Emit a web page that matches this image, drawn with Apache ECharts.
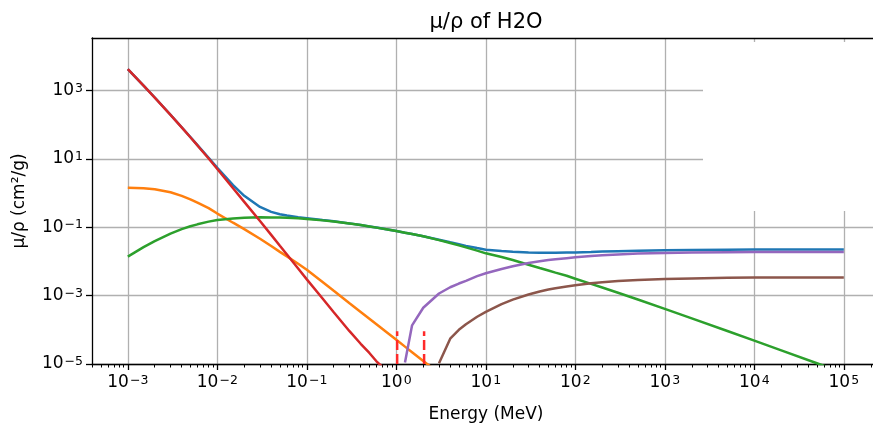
<!DOCTYPE html>
<html><head><meta charset="utf-8">
<script src="https://cdn.jsdelivr.net/npm/echarts@6/dist/echarts.min.js"></script>
<style>html,body{margin:0;padding:0;background:#fff}#c{width:873px;height:428px}</style>
</head><body><div id="c"></div>
<script>
// Photon energies (MeV)
const energy = [0.001,0.0015,0.002,0.003,0.004,0.005,0.006,0.008,0.01,0.015,0.02,0.03,0.04,0.05,0.06,0.08,0.1,0.15,0.2,0.3,0.4,0.5,0.6,0.8,1,1.25,1.5,2,3,4,5,6,8,10,15,20,30,40,50,60,80,100,150,200,300,500,1000,2000,5000,10000,20000,50000,100000];
// mass attenuation coefficients (cm^2/g)
const total = [4201,1375,617,193,83.5,43.2,25.1,10.7,5.41,1.69,0.826,0.391,0.280,0.239,0.218,0.196,0.183,0.161,0.148,0.129,0.1154,0.1052,0.0972,0.0856,0.0771,0.0690,0.0632,0.0545,0.0430,0.0361,0.0317,0.0284,0.0245,0.0220,0.0200,0.0190,0.0181,0.0178,0.0178,0.0178,0.0181,0.0182,0.0188,0.0193,0.0199,0.0205,0.0212,0.0216,0.0219,0.0221,0.0222,0.0222,0.0222];
const coherent = [1.42,1.38,1.28,1.05,0.82,0.65,0.52,0.36,0.25,0.135,0.088,0.046,0.028,0.019,0.014,0.0085,0.0057,0.0025,0.00138,0.0006,0.000333,0.000211,0.000145,0.0000804,0.0000509,0.0000322,0.0000222,0.0000123,0.0000054,null,null,null,null,null,null,null,null,null,null,null,null,null,null,null,null,null,null,null,null,null,null,null,null];
const incoherent = [0.0138,0.026,0.039,0.065,0.088,0.106,0.121,0.145,0.163,0.180,0.188,0.194,0.193,0.191,0.188,0.181,0.174,0.158,0.146,0.128,0.115,0.105,0.097,0.0855,0.077,0.069,0.063,0.054,0.0418,0.0343,0.0293,0.0256,0.0206,0.0172,0.0134,0.0110,0.0080,0.0064,0.0054,0.0047,0.0038,0.0031,0.0022,0.00172,0.00121,0.00077,0.00041,0.000215,0.000092,0.000048,0.000025,0.0000105,0.0000054];
const photoelectric = [4200,1374,616,192,82.6,42.4,24.5,10.2,5.0,1.37,0.55,0.151,0.0594,0.0287,0.0159,0.0062,0.00298,0.00082,0.000327,0.000091,0.000039,0.000021,0.000012,0.0000059,0.0000035,null,null,null,null,null,null,null,null,null,null,null,null,null,null,null,null,null,null,null,null,null,null,null,null,null,null,null,null];
const pairNuclear = [null,null,null,null,null,null,null,null,null,null,null,null,null,null,null,null,null,null,null,null,null,null,null,null,null,0.000011,0.000135,0.00044,0.00115,0.00175,0.00225,0.0027,0.0037,0.0045,0.0060,0.0072,0.0090,0.0101,0.0109,0.0115,0.0124,0.0131,0.0143,0.0151,0.0160,0.0169,0.0177,0.0182,0.0185,0.0187,0.0188,0.0188,0.0188];
const pairElectron = [null,null,null,null,null,null,null,null,null,null,null,null,null,null,null,null,null,null,null,null,null,null,null,null,null,null,null,null,0.0000105,0.000055,0.0001,0.000145,0.00024,0.000335,0.00056,0.00076,0.00108,0.00132,0.0015,0.00164,0.00185,0.0020,0.00228,0.00246,0.00266,0.00287,0.00305,0.00318,0.0033,0.00335,0.00338,0.0034,0.0034];
// pair-production thresholds (MeV) and top of their marker lines
const thresholds = [1.022, 2.044];
const thresholdTop = 0.00009;
// axis ranges and ticks (decade exponents)
const xRange = [-3.4, 5.326];
const yRange = [-5, 4.53];
const xMajor = [-3,-2,-1,0,1,2,3,4,5];
const yMajor = [-5,-3,-1,1,3];

const L = Math.log10;
function pts(vals){ const out=[]; energy.forEach((e,i)=>{ if(vals[i]!=null) out.push([L(e), L(vals[i])]); }); return out; }
function pow10(n){ const k = Math.round(n); return '{b|10}{s|' + String(k).replace('-', '\u2212') + '}'; }
const minorX = [];
for (let n=-4;n<=5;n++) for (let k=2;k<=9;k++){ const v=L(k)+n; if (v>xRange[0] && v<xRange[1]) minorX.push(v); }

const FONT = 'DejaVu Sans';
const RICH = {b:{fontFamily:FONT, fontSize:17, color:'#000'}, s:{fontFamily:FONT, fontSize:12.5, color:'#000', verticalAlign:'top', padding:[0,0,0,1]}};
const lineSeries = (name, vals, color) => ({
  name, type:'line', data: pts(vals), showSymbol:false, symbol:'none', clip:true,
  lineStyle:{width:2.5, color}, itemStyle:{color}, animation:false
});
const series = [
  lineSeries('Total', total, '#1f77b4'),
  lineSeries('Coherent', coherent, '#ff7f0e'),
  lineSeries('Incoherent', incoherent, '#2ca02c'),
  lineSeries('Photoelectric', photoelectric, '#d62728'),
  lineSeries('Pair (nuclear)', pairNuclear, '#9467bd'),
  lineSeries('Pair (electron)', pairElectron, '#8c564b')
];
thresholds.forEach(t => series.push({
  type:'line', data:[[L(t), yRange[0]],[L(t), L(thresholdTop)]], showSymbol:false, symbol:'none',
  lineStyle:{width:2.5, color:'#ff2a2a', type:[10,4]}, animation:false, clip:true
}));

const AXLINE = {show:true, onZero:false, lineStyle:{color:'#000', width:1.3}};
const chart = echarts.init(document.getElementById('c'));
chart.setOption({
  animation:false,
  backgroundColor:'#fff',
  title:{text:'\u03BC/\u03C1 of H2O', left:481, top:7, textAlign:'center',
    textStyle:{fontFamily:FONT, fontSize:21, fontWeight:'normal', color:'#000'}},
  grid:{left:92, top:38, right:0, bottom:60, show:false},
  xAxis:[{
    type:'value', min:xRange[0], max:xRange[1], position:'bottom',
    axisLine:AXLINE,
    axisTick:{customValues:xMajor, length:6, lineStyle:{color:'#000', width:1.3}},
    axisLabel:{customValues:xMajor, formatter:v=>pow10(v), rich:RICH, margin:10},
    splitLine:{show:true, lineStyle:{color:'#b0b0b0', width:1.3}},
    name:'Energy (MeV)', nameLocation:'middle', nameGap:42,
    nameTextStyle:{fontFamily:FONT, fontSize:17, color:'#000', padding:[0,0,0,7]}
  },{
    type:'value', min:xRange[0], max:xRange[1], position:'bottom',
    axisLine:{show:false, onZero:false}, axisLabel:{show:false}, splitLine:{show:false},
    axisTick:{customValues:minorX, length:3.5, lineStyle:{color:'#000', width:1}}
  },{
    type:'value', min:xRange[0], max:xRange[1], position:'top',
    axisLine:AXLINE, axisLabel:{show:false}, splitLine:{show:false}, axisTick:{show:false}
  }],
  yAxis:{
    type:'value', min:yRange[0], max:yRange[1], position:'left',
    axisLine:AXLINE,
    axisTick:{customValues:yMajor, length:6, lineStyle:{color:'#000', width:1.3}},
    axisLabel:{customValues:yMajor, formatter:v=>pow10(v), rich:RICH, margin:9},
    splitLine:{show:true, lineStyle:{color:'#b0b0b0', width:1.3}},
    name:'\u03BC/\u03C1 (cm\u00B2/g)', nameLocation:'middle', nameGap:64,
    nameTextStyle:{fontFamily:FONT, fontSize:17, color:'#000'}
  },
  graphic:[{type:'rect', left:703, top:42, z:100, shape:{width:175, height:169}, style:{fill:'#fff'}}],
  series
});
</script></body></html>
